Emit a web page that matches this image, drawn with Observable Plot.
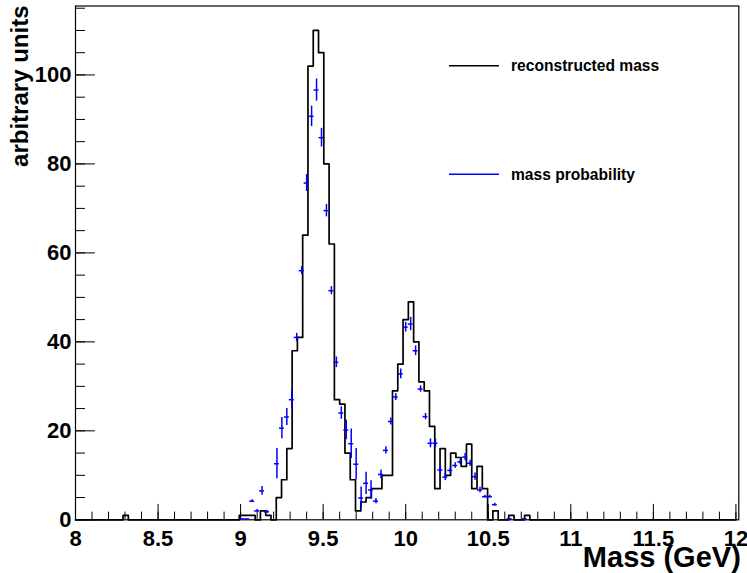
<!DOCTYPE html>
<html><head><meta charset="utf-8">
<script src="https://cdn.jsdelivr.net/npm/d3@7"></script>
<script src="https://cdn.jsdelivr.net/npm/@observablehq/plot@0.6"></script>
<style>
body{margin:0;background:#fff;}
#wrap{position:relative;width:747px;height:573px;font-family:"Liberation Sans",Arial,Helvetica,sans-serif;font-weight:bold;}
#legend{position:absolute;left:0;top:0;pointer-events:none;}
</style></head><body><div id="wrap"></div>
<script>
// "reconstructed mass": histogram, 125 bins of 0.032 GeV starting at 8.0 GeV
const recoStart = 8.0;
const recoWidth = 0.032;
const recoCounts = [
  0,0,0,0,0,0,0,0,0,1,
  0,0,0,0,0,0,0,0,0,0,
  0,0,0,0,0,0,0,0,0,0,
  0,1,1,1,0,2,1,0,5,9,
  16,38,41,64,102,110,105,80,62,27,
  26,15,9,2,4,5,7,7,10,10,
  29,35,45,49,40,31,29,21,7,16,
  10,15,14,12,17,7,12,7,0,2,
  0,0,1,0,0,1,0,0,0,0,
  0,0,0,0,0,0,0,0,0,0,
  0,0,0,0,0,0,0,0,0,0,
  0,0,0,0,0,0,0,0,0,0,
  0,0,0,0,0
];
// "mass probability": points with errors, bins of 0.03 GeV
const probStart = 8.005;
const probWidth = 0.03;
const probBin = [33,34,35,36,37,38,40,41,42,43,44,45,46,47,48,49,50,51,52,53,54,55,56,57,58,59,60,61,62,63,64,65,66,67,68,69,70,71,72,73,74,75,76,77,78,79,80,81,82,83,84,87,90];
const probValue = [0.2,0.2,4.2,2.0,6.5,1.8,12.6,20.6,23.1,27.0,41.0,56.0,75.7,90.7,96.6,85.9,69.5,51.5,35.4,24.0,20.2,17.1,12.5,4.9,8.2,6.7,4.2,10.2,15.6,22.1,27.6,32.8,43.3,44.0,38.0,29.4,23.2,17.2,17.2,11.2,9.6,11.1,12.2,13.0,14.1,12.7,9.7,6.7,5.2,5.2,3.4,0.2,0.2];
const probError = [0,0,0.3,0.3,1.0,0.3,3.4,2.4,1.9,2.0,0.9,0.9,1.9,2.3,2.5,2.1,1.4,0.9,1.2,1.4,2.2,3.3,3.5,2.5,2.5,2.1,0.6,1.0,0.8,0.8,0.8,1.1,1.1,1.5,1.1,0.7,0.7,1.0,1.0,0.8,0.8,0.7,0.6,0.6,0.8,0.7,0.8,0.6,0.3,0.3,0.3,0,0];

const xTicks = [8,8.5,9,9.5,10,10.5,11,11.5,12];
const xTickLabels = ["8","8.5","9","9.5","10","10.5","11","11.5","12"];
const xMinorTicks = d3.range(81).map(i => 8 + i*0.1);
const yTicks = [0,20,40,60,80,100];
const yTickLabels = ["0","20","40","60","80","100"];
const yMinorTicks = d3.range(24).map(i => i*5);
const legendLabels = ["reconstructed mass","mass probability"];
const legendColors = ["#000000","#0000ff"];

const W = 747, H = 573;
const mL = 75, mR = 8.7, mT = 5.5, mB = 53.7;
const plotH = H - mT - mB, plotW = W - mL - mR;

const recoData = recoCounts.map((v,k) => ({x: recoStart + k*recoWidth, y: v}));
recoData.push({x: recoStart + recoCounts.length*recoWidth, y: 0});
const probData = probBin.map((n,i) => ({x: probStart + (n+0.5)*probWidth, y: probValue[i], e: probError[i]}));

const font = '"Liberation Sans",Arial,Helvetica,sans-serif';
const chart = Plot.plot({
  width: W, height: H,
  marginLeft: mL, marginRight: mR, marginTop: mT, marginBottom: mB,
  x: {domain: [8, 12.0175], axis: null},
  y: {domain: [0, 115.5], axis: null},
  style: {fontFamily: font, fontWeight: "bold", background: "white", overflow: "visible"},
  marks: [
    Plot.frame({stroke: "black", strokeWidth: 1.2}),
    Plot.tickX(xMinorTicks, {x: d => d, stroke: "black", strokeWidth: 1, insetTop: plotH - 7.7}),
    Plot.tickX(xTicks, {x: d => d, stroke: "black", strokeWidth: 1, insetTop: plotH - 15.4}),
    Plot.tickY(yMinorTicks, {y: d => d, stroke: "black", strokeWidth: 1, insetRight: plotW - 10}),
    Plot.tickY(yTicks, {y: d => d, stroke: "black", strokeWidth: 1, insetRight: plotW - 19.9}),
    Plot.line(recoData, {x: "x", y: "y", curve: "step-after", stroke: "black", strokeWidth: 1.7}),
    Plot.ruleX(probData, {x: "x", y1: d => d.y - d.e, y2: d => d.y + d.e, stroke: "#0000ff", strokeWidth: 1.5}),
    Plot.ruleY(probData, {y: "y", x1: d => d.x - probWidth/2, x2: d => d.x + probWidth/2, stroke: "#0000ff", strokeWidth: 1.5}),
    Plot.text(xTicks, {x: d => d, text: (d,i) => xTickLabels[i], frameAnchor: "bottom", lineAnchor: "middle", dy: 19, fontSize: 22, fill: "black"}),
    Plot.text(yTicks, {y: d => d, text: (d,i) => yTickLabels[i], frameAnchor: "left", lineAnchor: "middle", dx: -4, textAnchor: "end", fontSize: 22, fill: "black"}),
    Plot.text(["Mass (GeV)"], {frameAnchor: "bottom-right", lineAnchor: "middle", dx: 2, dy: 38, textAnchor: "end", fontSize: 29, fill: "black"}),
    Plot.text(["arbitrary units"], {frameAnchor: "top-left", dx: -65, dy: -0.5, rotate: -90, textAnchor: "end", fontSize: 24, fill: "black"})
  ]
});
document.getElementById("wrap").appendChild(chart);

// legend overlay
const ns = "http://www.w3.org/2000/svg";
const leg = document.createElementNS(ns, "svg");
leg.setAttribute("id", "legend");
leg.setAttribute("width", W); leg.setAttribute("height", H);
const legY = [65.7, 174.3];
legendLabels.forEach((lab, i) => {
  const ln = document.createElementNS(ns, "line");
  ln.setAttribute("x1", 449); ln.setAttribute("x2", 499);
  ln.setAttribute("y1", legY[i]); ln.setAttribute("y2", legY[i]);
  ln.setAttribute("stroke", legendColors[i]); ln.setAttribute("stroke-width", 1.5);
  leg.appendChild(ln);
  const t = document.createElementNS(ns, "text");
  t.setAttribute("x", 511); t.setAttribute("y", legY[i]);
  t.setAttribute("dy", "0.35em");
  t.setAttribute("font-size", 15.6);
  t.setAttribute("font-weight", "bold");
  t.setAttribute("font-family", font);
  t.textContent = lab;
  leg.appendChild(t);
});
document.getElementById("wrap").appendChild(leg);
</script>
</body></html>
